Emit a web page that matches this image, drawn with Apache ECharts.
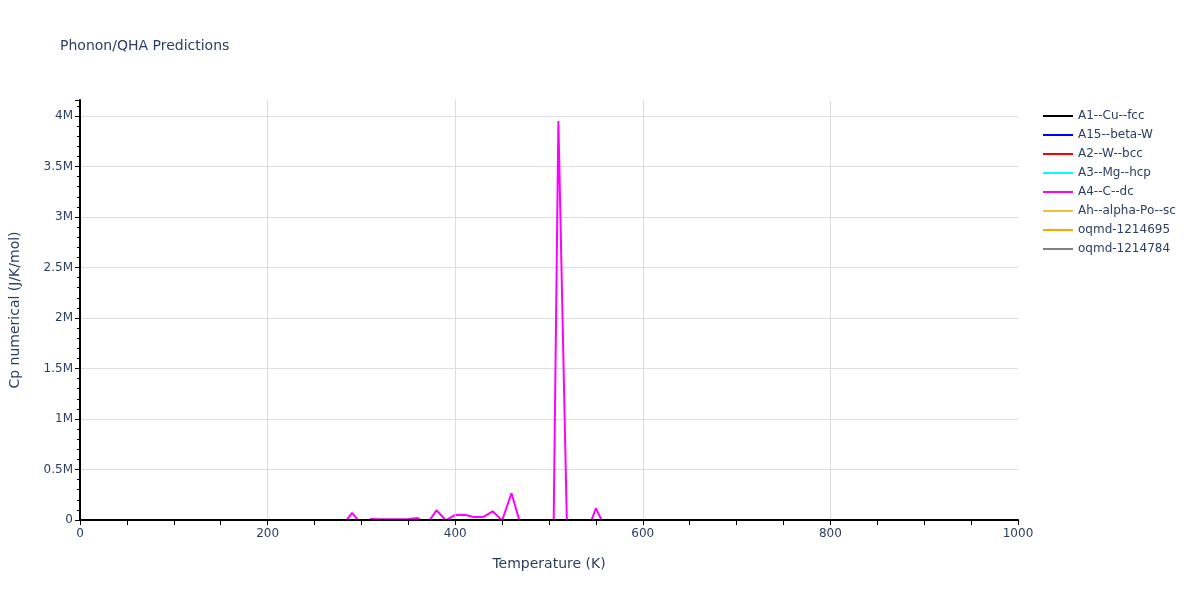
<!DOCTYPE html>
<html>
<head>
<meta charset="utf-8">
<script src="https://cdn.jsdelivr.net/npm/echarts@6/dist/echarts.min.js"></script>
<style>html,body{margin:0;padding:0;background:#fff}#c{width:1200px;height:600px}</style>
</head>
<body>
<div id="c"></div>
<script>
// ---- data ----
const seriesNames = ['A1--Cu--fcc', 'A15--beta-W', 'A2--W--bcc', 'A3--Mg--hcp', 'A4--C--dc', 'Ah--alpha-Po--sc', 'oqmd-1214695', 'oqmd-1214784'];
const seriesColors = ['#000000', '#0000ff', '#ff0000', '#00ffff', '#ff00ff', '#f2c037', '#ffa500', '#808080'];
const temps = [0, 100, 200, 300, 400, 500, 600, 700, 800, 900, 1000];
const a1Values = [0, 16.0, 22.6, 24.4, 25.0, 25.4, 25.8, 26.2, 26.6, 27.0, 27.4];
const a15Values = [0, 13.5, 21.0, 23.6, 24.5, 25.0, 25.3, 25.6, 25.9, 26.2, 26.5];
const a2Values = [0, 14.0, 21.5, 23.8, 24.6, 25.1, 25.4, 25.7, 26.0, 26.3, 26.6];
const a3Values = [0, 15.5, 22.2, 24.1, 24.9, 25.3, 25.7, 26.1, 26.5, 26.9, 27.3];
const ahValues = [0, 17.0, 23.0, 24.6, 25.2, 25.6, 26.0, 26.4, 26.8, 27.2, 27.6];
const oqmd1Values = [0, 15.0, 22.0, 24.0, 24.8, 25.2, 25.6, 26.0, 26.4, 26.8, 27.2];
const oqmd2Values = [0, 14.5, 21.8, 23.9, 24.7, 25.1, 25.5, 25.9, 26.3, 26.7, 27.1];
// A4--C--dc (numerical Cp, noisy)
const a4Temps = [0, 100, 200, 260, 270, 280, 290, 300, 310, 320, 330, 340, 350, 360, 370, 380, 390, 400, 410, 420, 430, 440, 450, 460, 470, 480, 490, 500, 510, 520, 530, 540, 550, 560, 570, 580, 590, 600, 700, 800, 900, 1000];
const a4Values = [0, 5, 10, -5000, -20000, -53000, 70000, -39000, 9000, 8000, 8000, 8000, 9000, 20000, -41000, 96000, -3000, 50000, 52000, 30000, 30000, 86000, -5000, 265000, -54000, -30000, -60000, -3950000, 3950000, -440000, -200000, -135000, 115000, -77000, -20000, -10000, -5000, -2000, -100, -50, -20, -10];
const yTicks = [0, 500000, 1000000, 1500000, 2000000, 2500000, 3000000, 3500000, 4000000];
const yTickLabels = ['0', '0.5M', '1M', '1.5M', '2M', '2.5M', '3M', '3.5M', '4M'];

const pair = (xs, ys) => xs.map((x, i) => [x, ys[i]]);
const dataSets = [
  pair(temps, a1Values), pair(temps, a15Values), pair(temps, a2Values), pair(temps, a3Values),
  pair(a4Temps, a4Values), pair(temps, ahValues), pair(temps, oqmd1Values), pair(temps, oqmd2Values)
];

const FONT = '"DejaVu Sans", Verdana, sans-serif';
const TXT = '#2a3f5f';
const chart = echarts.init(document.getElementById('c'), null, {renderer: 'canvas'});
chart.setOption({
  animation: false,
  backgroundColor: '#fff',
  textStyle: {fontFamily: FONT},
  title: {
    text: 'Phonon/QHA Predictions', left: 55, top: 34, padding: 5,
    textStyle: {fontFamily: FONT, fontSize: 14, fontWeight: 'normal', color: TXT}
  },
  legend: {
    orient: 'vertical', left: 1043, top: 109, padding: 0,
    itemWidth: 30, itemHeight: 2, itemGap: 5,
    icon: 'rect',
    textStyle: {fontFamily: FONT, fontSize: 12, color: TXT, lineHeight: 14},
    data: seriesNames
  },
  grid: {left: 80, right: 182, top: 100, bottom: 80, containLabel: false},
  xAxis: {
    type: 'value', min: 0, max: 1000, interval: 200, z: 10,
    name: 'Temperature (K)', nameLocation: 'middle', nameGap: 37,
    nameTextStyle: {fontFamily: FONT, fontSize: 14, color: TXT},
    axisLine: {show: true, onZero: false, lineStyle: {color: '#000', width: 2}},
    axisTick: {show: true, length: 5, lineStyle: {color: '#000', width: 1}},
    minorTick: {show: true, splitNumber: 4, length: 5, lineStyle: {color: '#000', width: 1}},
    axisLabel: {fontFamily: FONT, fontSize: 12, color: TXT, margin: 8, formatter: v => String(v)},
    splitLine: {show: true, showMinLine: false, showMaxLine: false, lineStyle: {color: '#dddddd', width: 1}}
  },
  yAxis: {
    type: 'value', min: 0, max: 4158000, interval: 500000,
    name: 'Cp numerical (J/K/mol)', nameLocation: 'middle', nameGap: 58, nameRotate: 90,
    nameTextStyle: {fontFamily: FONT, fontSize: 14, color: TXT},
    axisLine: {show: true, onZero: false, lineStyle: {color: '#000', width: 2}},
    axisTick: {show: true, length: 5, lineStyle: {color: '#000', width: 1}},
    minorTick: {show: true, splitNumber: 5, length: 3, lineStyle: {color: '#000', width: 1}},
    axisLabel: {
      fontFamily: FONT, fontSize: 12, color: TXT, margin: 7, showMaxLabel: false,
      formatter: v => { const i = yTicks.indexOf(v); return i >= 0 ? yTickLabels[i] : ''; }
    },
    splitLine: {show: true, showMinLine: false, showMaxLine: false, lineStyle: {color: '#dddddd', width: 1}}
  },
  series: seriesNames.map((n, i) => ({
    name: n, type: 'line', data: dataSets[i], symbol: 'none', showSymbol: false,
    clip: true,
    lineStyle: {color: seriesColors[i], width: 2},
    itemStyle: {color: seriesColors[i]}
  }))
});
</script>
</body>
</html>
